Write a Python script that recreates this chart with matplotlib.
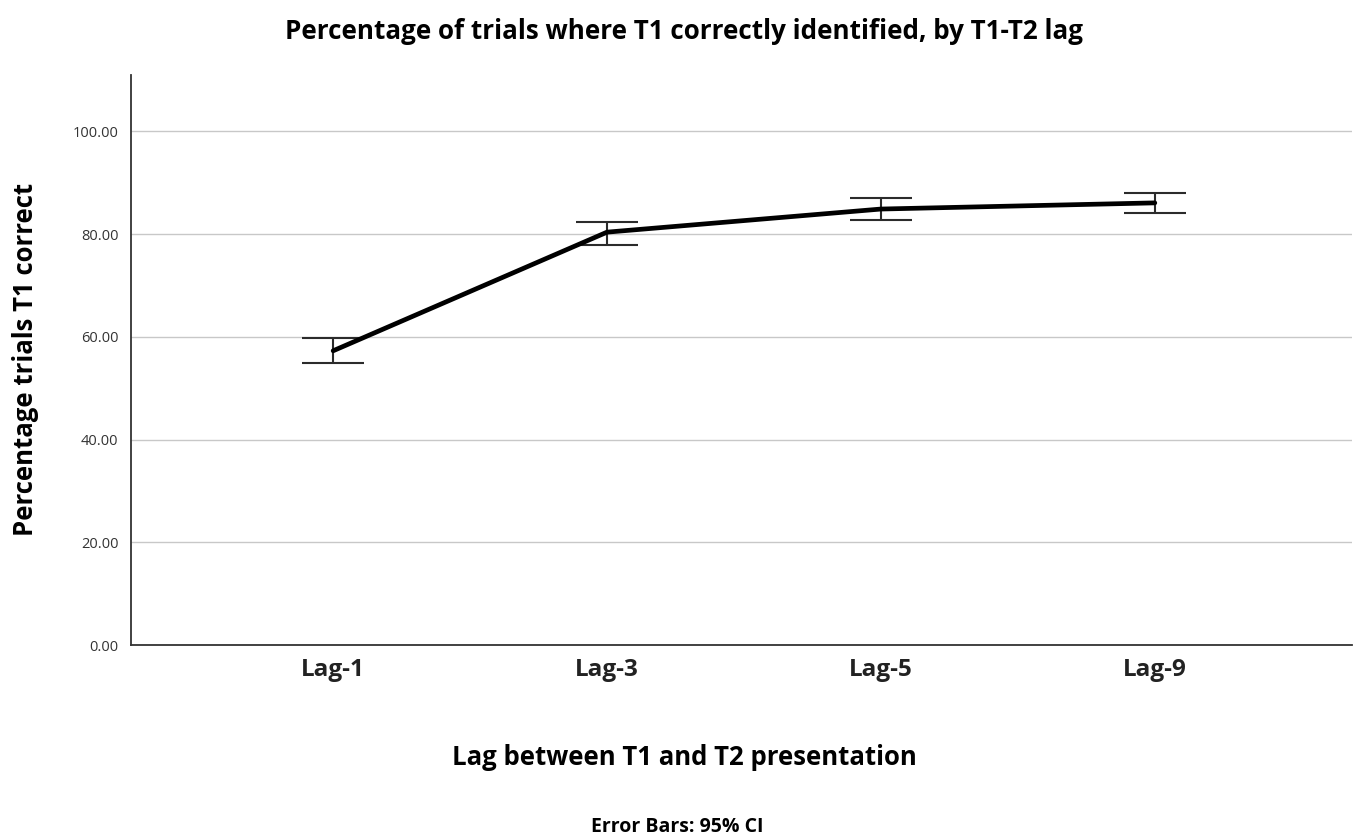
import numpy as np
import matplotlib.pyplot as plt

plt.rcParams['font.family'] = ['Open Sans', 'DejaVu Sans']

lags = ['Lag-1', 'Lag-3', 'Lag-5', 'Lag-9']
mean_pct = [57.3, 80.4, 84.9, 86.1]
ci_low = [54.9, 77.9, 82.8, 84.1]
ci_high = [59.8, 82.3, 87.0, 88.0]
y_ticks = [0, 20, 40, 60, 80, 100]

fig = plt.figure(figsize=(13.55, 8.39), dpi=100)
ax = fig.add_axes([0.0967, 0.2312, 0.9011, 0.6794])

x = np.arange(len(lags))
mean_pct = np.array(mean_pct)
err = [mean_pct - np.array(ci_low), np.array(ci_high) - mean_pct]

ax.errorbar(x, mean_pct, yerr=err, fmt='none', ecolor='#2b2b2b',
            elinewidth=1.5, capsize=22, capthick=1.5, zorder=3)
ax.plot(x, mean_pct, color='black', linewidth=3.4, zorder=4,
        solid_capstyle='round')

ax.set_xlim(-0.738, 3.72)
ax.set_ylim(0, 111)
ax.set_yticks(y_ticks)
ax.set_yticklabels(['%.2f' % v for v in y_ticks], fontsize=10.5, color='#333333')
ax.set_xticks(x)
ax.set_xticklabels(lags, fontsize=17.5, fontweight='bold', color='#222222')
ax.tick_params(axis='both', length=0)
ax.tick_params(axis='y', pad=9)
ax.tick_params(axis='x', pad=9)

ax.grid(axis='y', color='#c8c8c8', linewidth=1)
ax.set_axisbelow(True)
for s in ['top', 'right']:
    ax.spines[s].set_visible(False)
for s in ['left', 'bottom']:
    ax.spines[s].set_color('#333333')
    ax.spines[s].set_linewidth(1.3)

fig.text(0.0185, 0.571, 'Percentage trials T1 correct', rotation=90,
         ha='center', va='center', fontsize=18.5, fontweight='bold')
fig.text(0.505, 0.962, 'Percentage of trials where T1 correctly identified, by T1-T2 lag',
         ha='center', va='center', fontsize=18.7, fontweight='bold')
fig.text(0.505, 0.0977, 'Lag between T1 and T2 presentation', ha='center',
         va='center', fontsize=18.5, fontweight='bold')
fig.text(0.5, 0.0145, 'Error Bars: 95% CI', ha='center', va='center',
         fontsize=14, fontweight='bold')

fig.savefig('out.png', dpi=100)
